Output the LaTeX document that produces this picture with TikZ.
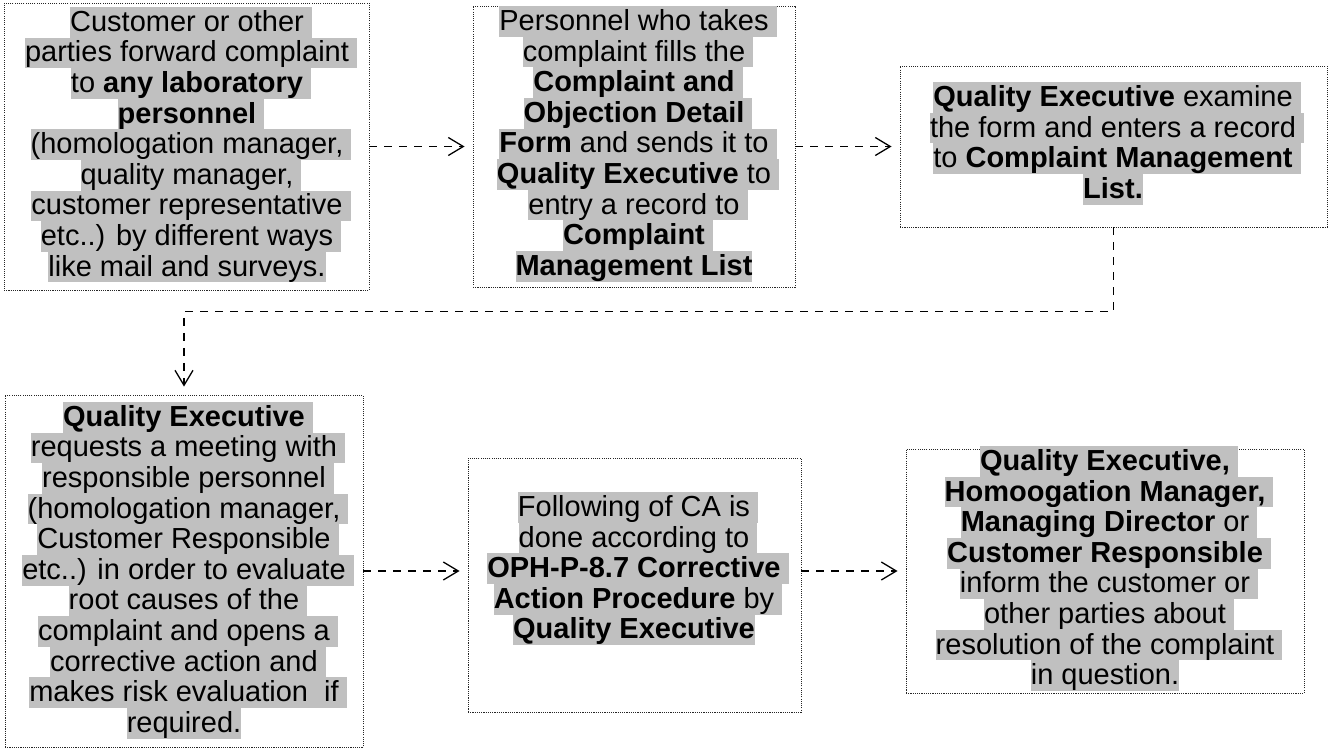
\documentclass[tikz,border=0pt]{standalone}
\usepackage{fontspec}
\setmainfont{Liberation Sans}
\usetikzlibrary{arrows.meta,calc}
\definecolor{hlgray}{HTML}{C0C0C0}
% one highlighted text line; the band is as tall as the line pitch
\newcommand\bandstrut{\rule[-6.3pt]{0pt}{30.6pt}}
\newcommand\hlsp[1]{{\setlength\fboxsep{0pt}\colorbox{hlgray}{\bandstrut#1}\rlap{\colorbox{hlgray}{\bandstrut\ }}}}
\newcommand\hlnosp[1]{{\setlength\fboxsep{0pt}\colorbox{hlgray}{\bandstrut#1}}}
\begin{document}
\begin{tikzpicture}[x=1pt,y=-1pt,
  box/.style={rectangle, draw=black!85, line width=0.9pt, dash pattern=on 1.1pt off 1.1pt, inner sep=0pt},
  txt/.style={anchor=north, align=center, inner sep=0pt, font=\fontsize{29}{30.6}\selectfont},
  arr/.style={line width=1.8pt, dash pattern=on 8pt off 7pt,
    -{Straight Barb[length=15pt,width=18pt,line width=1.3pt]}, shorten >=8pt}]
\useasboundingbox (0,0) rectangle (1333,749);

% process boxes
\node[box, minimum width=365pt, minimum height=287pt] (b1) at (186.5,146.5) {};
\node[box, minimum width=322pt, minimum height=281pt] (b2) at (634,146.5) {};
\node[box, minimum width=427pt, minimum height=161pt] (b3) at (1113.5,146.5) {};
\node[box, minimum width=358pt, minimum height=352pt] (b4) at (184,571) {};
\node[box, minimum width=333pt, minimum height=254pt] (b5) at (634.5,585) {};
\node[box, minimum width=398pt, minimum height=244pt] (b6) at (1105,571) {};

% box texts
\node[txt] (t1) at (187,6.7) {%
\hlsp{Customer or other}\\
\hlsp{parties forward complaint}\\
\hlsp{to \textbf{any laboratory}}\\
\hlsp{\textbf{personnel}}\\
\hlsp{(homologation manager,}\\
\hlsp{quality manager,}\\
\hlsp{customer representative}\\
\hlsp{etc..) by different ways}\\
\hlnosp{like mail and surveys.}};

\node[txt] (t2) at (634,6) {%
\hlsp{Personnel who takes}\\
\hlsp{complaint fills the}\\
\hlsp{\textbf{Complaint and}}\\
\hlsp{\textbf{Objection Detail}}\\
\hlsp{\textbf{Form} and sends it to}\\
\hlsp{\textbf{Quality Executive} to}\\
\hlsp{entry a record to}\\
\hlsp{\textbf{Complaint}}\\
\hlnosp{\textbf{Management List}}};

\node[txt] (t3) at (1113,82) {%
\hlsp{\textbf{Quality Executive} examine}\\
\hlsp{the form and enters a record}\\
\hlsp{to \textbf{Complaint Management}}\\
\hlnosp{\textbf{List.}}};

\node[txt] (t4) at (184,401.7) {%
\hlsp{\textbf{Quality Executive}}\\
\hlsp{requests a meeting with}\\
\hlsp{responsible personnel}\\
\hlsp{(homologation manager,}\\
\hlsp{Customer Responsible}\\
\hlsp{etc..) in order to evaluate}\\
\hlsp{root causes of the}\\
\hlsp{complaint and opens a}\\
\hlsp{corrective action and}\\
\hlsp{makes risk evaluation\ \ if}\\
\hlnosp{required.}};

\node[txt] (t5) at (634,492) {%
\hlsp{Following of CA is}\\
\hlsp{done according to}\\
\hlsp{\textbf{OPH-P-8.7 Corrective}}\\
\hlsp{\textbf{Action Procedure} by}\\
\hlnosp{\textbf{Quality Executive}}};

\node[txt] (t6) at (1105,446) {%
\hlsp{\textbf{Quality Executive,}}\\
\hlsp{\textbf{Homoogation Manager,}}\\
\hlsp{\textbf{Managing Director} or}\\
\hlsp{\textbf{Customer Responsible}}\\
\hlsp{inform the customer or}\\
\hlsp{other parties about}\\
\hlsp{resolution of the complaint}\\
\hlnosp{in question.}};

% flow connectors
\draw[arr] (b1.east) -- (b2.west);
\draw[arr] (b2.east) -- (b3.west);
\draw[arr] (b3.south) -- ++(0,84) -| (b4.north);
\draw[arr] (b4.east) -- (b4.east -| b5.west);
\draw[arr] (b6.west -| b5.east) -- (b6.west);
\end{tikzpicture}
\end{document}
